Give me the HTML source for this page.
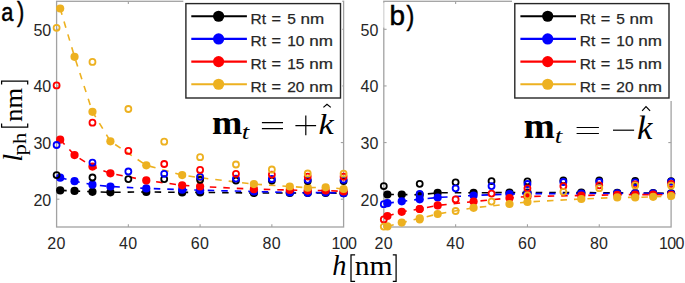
<!DOCTYPE html><html><head><meta charset="utf-8"><style>html,body{margin:0;padding:0;background:#fff;}body{width:685px;height:283px;overflow:hidden;}svg{display:block;}#w{width:685px;height:283px;}.sa,.t{font-family:"Liberation Sans",sans-serif;}.t{fill:#262626;font-size:16px;}.s{font-family:"Liberation Serif",serif;}</style></head><body>
<div id="w">
<svg width="685" height="283" viewBox="0 0 685 283">
<clipPath id="c0"><rect x="50.6" y="-6.7" width="299.0" height="233.7"/></clipPath>
<rect x="56.6" y="1.3" width="287.00" height="225.70" fill="none" stroke="#a2a2a2" stroke-width="1.3"/>
<line x1="128.35" y1="227.0" x2="128.35" y2="224.2" stroke="#a2a2a2" stroke-width="1.1"/>
<line x1="128.35" y1="1.3" x2="128.35" y2="4.1" stroke="#a2a2a2" stroke-width="1.1"/>
<line x1="200.10" y1="227.0" x2="200.10" y2="224.2" stroke="#a2a2a2" stroke-width="1.1"/>
<line x1="200.10" y1="1.3" x2="200.10" y2="4.1" stroke="#a2a2a2" stroke-width="1.1"/>
<line x1="271.85" y1="227.0" x2="271.85" y2="224.2" stroke="#a2a2a2" stroke-width="1.1"/>
<line x1="271.85" y1="1.3" x2="271.85" y2="4.1" stroke="#a2a2a2" stroke-width="1.1"/>
<line x1="56.6" y1="199.20" x2="59.4" y2="199.20" stroke="#a2a2a2" stroke-width="1.1"/>
<line x1="343.6" y1="199.20" x2="340.8" y2="199.20" stroke="#a2a2a2" stroke-width="1.1"/>
<line x1="56.6" y1="142.57" x2="59.4" y2="142.57" stroke="#a2a2a2" stroke-width="1.1"/>
<line x1="343.6" y1="142.57" x2="340.8" y2="142.57" stroke="#a2a2a2" stroke-width="1.1"/>
<line x1="56.6" y1="85.94" x2="59.4" y2="85.94" stroke="#a2a2a2" stroke-width="1.1"/>
<line x1="343.6" y1="85.94" x2="340.8" y2="85.94" stroke="#a2a2a2" stroke-width="1.1"/>
<line x1="56.6" y1="29.31" x2="59.4" y2="29.31" stroke="#a2a2a2" stroke-width="1.1"/>
<line x1="343.6" y1="29.31" x2="340.8" y2="29.31" stroke="#a2a2a2" stroke-width="1.1"/>
<text class="t" x="56.45" y="248.8" text-anchor="middle" letter-spacing="0.3">20</text>
<text class="t" x="128.20" y="248.8" text-anchor="middle" letter-spacing="0.3">40</text>
<text class="t" x="199.95" y="248.8" text-anchor="middle" letter-spacing="0.3">60</text>
<text class="t" x="271.70" y="248.8" text-anchor="middle" letter-spacing="0.3">80</text>
<text class="t" x="343.90" y="248.8" text-anchor="middle" letter-spacing="-0.6">100</text>
<text class="t" x="51.20" y="205.70" text-anchor="end">20</text>
<text class="t" x="51.20" y="149.07" text-anchor="end">30</text>
<text class="t" x="51.20" y="92.44" text-anchor="end">40</text>
<text class="t" x="51.20" y="35.81" text-anchor="end">50</text>
<g>
<polyline points="60.19,190.40 74.54,190.90 92.47,191.80 110.41,192.30 146.29,191.90 182.16,192.40 200.10,192.40 253.91,193.00 289.79,193.00 307.73,193.00 325.66,193.00 343.60,193.20" fill="none" stroke="#000000" stroke-width="1.6" stroke-dasharray="6.5 7"/>
<polyline points="60.19,177.70 74.54,181.20 92.47,184.70 110.41,186.50 146.29,188.40 182.16,189.70 200.10,190.20 253.91,191.50 289.79,192.50 307.73,192.80 325.66,192.50 343.60,193.20" fill="none" stroke="#0000ff" stroke-width="1.6" stroke-dasharray="6.5 7"/>
<polyline points="60.19,139.70 74.54,155.10 92.47,166.60 110.41,173.30 146.29,180.40 182.16,185.30 200.10,186.50 253.91,189.20 289.79,190.00 307.73,190.60 325.66,190.50 343.60,191.40" fill="none" stroke="#ff0000" stroke-width="1.6" stroke-dasharray="6.5 7"/>
<polyline points="60.19,8.50 74.54,56.80 92.47,111.80 110.41,141.30 146.29,165.30 182.16,175.10 200.10,177.70 253.91,184.10 289.79,186.50 307.73,187.70 325.66,187.30 343.60,189.00" fill="none" stroke="#edb120" stroke-width="1.6" stroke-dasharray="6.5 7"/>
<circle cx="60.19" cy="190.40" r="4.1" fill="#000000"/>
<circle cx="74.54" cy="190.90" r="4.1" fill="#000000"/>
<circle cx="92.47" cy="191.80" r="4.1" fill="#000000"/>
<circle cx="110.41" cy="192.30" r="4.1" fill="#000000"/>
<circle cx="146.29" cy="191.90" r="4.1" fill="#000000"/>
<circle cx="182.16" cy="192.40" r="4.1" fill="#000000"/>
<circle cx="200.10" cy="192.40" r="4.1" fill="#000000"/>
<circle cx="253.91" cy="193.00" r="4.1" fill="#000000"/>
<circle cx="289.79" cy="193.00" r="4.1" fill="#000000"/>
<circle cx="307.73" cy="193.00" r="4.1" fill="#000000"/>
<circle cx="325.66" cy="193.00" r="4.1" fill="#000000"/>
<circle cx="343.60" cy="193.20" r="4.1" fill="#000000"/>
<circle cx="60.19" cy="177.70" r="4.1" fill="#0000ff"/>
<circle cx="74.54" cy="181.20" r="4.1" fill="#0000ff"/>
<circle cx="92.47" cy="184.70" r="4.1" fill="#0000ff"/>
<circle cx="110.41" cy="186.50" r="4.1" fill="#0000ff"/>
<circle cx="146.29" cy="188.40" r="4.1" fill="#0000ff"/>
<circle cx="182.16" cy="189.70" r="4.1" fill="#0000ff"/>
<circle cx="200.10" cy="190.20" r="4.1" fill="#0000ff"/>
<circle cx="253.91" cy="191.50" r="4.1" fill="#0000ff"/>
<circle cx="289.79" cy="192.50" r="4.1" fill="#0000ff"/>
<circle cx="307.73" cy="192.80" r="4.1" fill="#0000ff"/>
<circle cx="325.66" cy="192.50" r="4.1" fill="#0000ff"/>
<circle cx="343.60" cy="193.20" r="4.1" fill="#0000ff"/>
<circle cx="60.19" cy="139.70" r="4.1" fill="#ff0000"/>
<circle cx="74.54" cy="155.10" r="4.1" fill="#ff0000"/>
<circle cx="92.47" cy="166.60" r="4.1" fill="#ff0000"/>
<circle cx="110.41" cy="173.30" r="4.1" fill="#ff0000"/>
<circle cx="146.29" cy="180.40" r="4.1" fill="#ff0000"/>
<circle cx="182.16" cy="185.30" r="4.1" fill="#ff0000"/>
<circle cx="200.10" cy="186.50" r="4.1" fill="#ff0000"/>
<circle cx="253.91" cy="189.20" r="4.1" fill="#ff0000"/>
<circle cx="289.79" cy="190.00" r="4.1" fill="#ff0000"/>
<circle cx="307.73" cy="190.60" r="4.1" fill="#ff0000"/>
<circle cx="325.66" cy="190.50" r="4.1" fill="#ff0000"/>
<circle cx="343.60" cy="191.40" r="4.1" fill="#ff0000"/>
<circle cx="60.19" cy="8.50" r="4.1" fill="#edb120"/>
<circle cx="74.54" cy="56.80" r="4.1" fill="#edb120"/>
<circle cx="92.47" cy="111.80" r="4.1" fill="#edb120"/>
<circle cx="110.41" cy="141.30" r="4.1" fill="#edb120"/>
<circle cx="146.29" cy="165.30" r="4.1" fill="#edb120"/>
<circle cx="182.16" cy="175.10" r="4.1" fill="#edb120"/>
<circle cx="200.10" cy="177.70" r="4.1" fill="#edb120"/>
<circle cx="253.91" cy="184.10" r="4.1" fill="#edb120"/>
<circle cx="289.79" cy="186.50" r="4.1" fill="#edb120"/>
<circle cx="307.73" cy="187.70" r="4.1" fill="#edb120"/>
<circle cx="325.66" cy="187.30" r="4.1" fill="#edb120"/>
<circle cx="343.60" cy="189.00" r="4.1" fill="#edb120"/>
<circle cx="56.60" cy="175.10" r="3.0" fill="none" stroke="#000000" stroke-width="1.8"/>
<circle cx="92.47" cy="177.50" r="3.0" fill="none" stroke="#000000" stroke-width="1.8"/>
<circle cx="128.35" cy="179.10" r="3.0" fill="none" stroke="#000000" stroke-width="1.8"/>
<circle cx="164.22" cy="179.10" r="3.0" fill="none" stroke="#000000" stroke-width="1.8"/>
<circle cx="200.10" cy="179.80" r="3.0" fill="none" stroke="#000000" stroke-width="1.8"/>
<circle cx="235.97" cy="180.50" r="3.0" fill="none" stroke="#000000" stroke-width="1.8"/>
<circle cx="271.85" cy="180.50" r="3.0" fill="none" stroke="#000000" stroke-width="1.8"/>
<circle cx="307.73" cy="181.00" r="3.0" fill="none" stroke="#000000" stroke-width="1.8"/>
<circle cx="343.60" cy="181.00" r="3.0" fill="none" stroke="#000000" stroke-width="1.8"/>
<circle cx="56.60" cy="145.00" r="3.0" fill="none" stroke="#0000ff" stroke-width="1.8"/>
<circle cx="92.47" cy="162.70" r="3.0" fill="none" stroke="#0000ff" stroke-width="1.8"/>
<circle cx="128.35" cy="171.50" r="3.0" fill="none" stroke="#0000ff" stroke-width="1.8"/>
<circle cx="164.22" cy="173.80" r="3.0" fill="none" stroke="#0000ff" stroke-width="1.8"/>
<circle cx="200.10" cy="176.80" r="3.0" fill="none" stroke="#0000ff" stroke-width="1.8"/>
<circle cx="235.97" cy="178.60" r="3.0" fill="none" stroke="#0000ff" stroke-width="1.8"/>
<circle cx="271.85" cy="179.00" r="3.0" fill="none" stroke="#0000ff" stroke-width="1.8"/>
<circle cx="307.73" cy="179.80" r="3.0" fill="none" stroke="#0000ff" stroke-width="1.8"/>
<circle cx="343.60" cy="179.80" r="3.0" fill="none" stroke="#0000ff" stroke-width="1.8"/>
<circle cx="56.60" cy="85.40" r="3.0" fill="none" stroke="#ff0000" stroke-width="1.8"/>
<circle cx="92.47" cy="122.70" r="3.0" fill="none" stroke="#ff0000" stroke-width="1.8"/>
<circle cx="128.35" cy="150.90" r="3.0" fill="none" stroke="#ff0000" stroke-width="1.8"/>
<circle cx="164.22" cy="164.00" r="3.0" fill="none" stroke="#ff0000" stroke-width="1.8"/>
<circle cx="200.10" cy="169.90" r="3.0" fill="none" stroke="#ff0000" stroke-width="1.8"/>
<circle cx="235.97" cy="173.80" r="3.0" fill="none" stroke="#ff0000" stroke-width="1.8"/>
<circle cx="271.85" cy="174.60" r="3.0" fill="none" stroke="#ff0000" stroke-width="1.8"/>
<circle cx="307.73" cy="176.60" r="3.0" fill="none" stroke="#ff0000" stroke-width="1.8"/>
<circle cx="343.60" cy="176.70" r="3.0" fill="none" stroke="#ff0000" stroke-width="1.8"/>
<circle cx="56.60" cy="27.80" r="3.0" fill="none" stroke="#edb120" stroke-width="1.8"/>
<circle cx="92.47" cy="61.90" r="3.0" fill="none" stroke="#edb120" stroke-width="1.8"/>
<circle cx="128.35" cy="109.00" r="3.0" fill="none" stroke="#edb120" stroke-width="1.8"/>
<circle cx="164.22" cy="141.70" r="3.0" fill="none" stroke="#edb120" stroke-width="1.8"/>
<circle cx="200.10" cy="157.20" r="3.0" fill="none" stroke="#edb120" stroke-width="1.8"/>
<circle cx="235.97" cy="164.50" r="3.0" fill="none" stroke="#edb120" stroke-width="1.8"/>
<circle cx="271.85" cy="169.50" r="3.0" fill="none" stroke="#edb120" stroke-width="1.8"/>
<circle cx="307.73" cy="173.50" r="3.0" fill="none" stroke="#edb120" stroke-width="1.8"/>
<circle cx="343.60" cy="173.70" r="3.0" fill="none" stroke="#edb120" stroke-width="1.8"/>
</g>
<clipPath id="c1"><rect x="377.8" y="-6.7" width="299.3" height="233.7"/></clipPath>
<rect x="383.8" y="1.3" width="287.30" height="225.70" fill="none" stroke="#a2a2a2" stroke-width="1.3"/>
<line x1="455.62" y1="227.0" x2="455.62" y2="224.2" stroke="#a2a2a2" stroke-width="1.1"/>
<line x1="455.62" y1="1.3" x2="455.62" y2="4.1" stroke="#a2a2a2" stroke-width="1.1"/>
<line x1="527.45" y1="227.0" x2="527.45" y2="224.2" stroke="#a2a2a2" stroke-width="1.1"/>
<line x1="527.45" y1="1.3" x2="527.45" y2="4.1" stroke="#a2a2a2" stroke-width="1.1"/>
<line x1="599.27" y1="227.0" x2="599.27" y2="224.2" stroke="#a2a2a2" stroke-width="1.1"/>
<line x1="599.27" y1="1.3" x2="599.27" y2="4.1" stroke="#a2a2a2" stroke-width="1.1"/>
<line x1="383.8" y1="199.20" x2="386.6" y2="199.20" stroke="#a2a2a2" stroke-width="1.1"/>
<line x1="671.1" y1="199.20" x2="668.3000000000001" y2="199.20" stroke="#a2a2a2" stroke-width="1.1"/>
<line x1="383.8" y1="142.57" x2="386.6" y2="142.57" stroke="#a2a2a2" stroke-width="1.1"/>
<line x1="671.1" y1="142.57" x2="668.3000000000001" y2="142.57" stroke="#a2a2a2" stroke-width="1.1"/>
<line x1="383.8" y1="85.94" x2="386.6" y2="85.94" stroke="#a2a2a2" stroke-width="1.1"/>
<line x1="671.1" y1="85.94" x2="668.3000000000001" y2="85.94" stroke="#a2a2a2" stroke-width="1.1"/>
<line x1="383.8" y1="29.31" x2="386.6" y2="29.31" stroke="#a2a2a2" stroke-width="1.1"/>
<line x1="671.1" y1="29.31" x2="668.3000000000001" y2="29.31" stroke="#a2a2a2" stroke-width="1.1"/>
<text class="t" x="383.65" y="248.8" text-anchor="middle" letter-spacing="0.3">20</text>
<text class="t" x="455.48" y="248.8" text-anchor="middle" letter-spacing="0.3">40</text>
<text class="t" x="527.30" y="248.8" text-anchor="middle" letter-spacing="0.3">60</text>
<text class="t" x="599.12" y="248.8" text-anchor="middle" letter-spacing="0.3">80</text>
<text class="t" x="671.40" y="248.8" text-anchor="middle" letter-spacing="-0.6">100</text>
<text class="t" x="378.40" y="205.70" text-anchor="end">20</text>
<text class="t" x="378.40" y="149.07" text-anchor="end">30</text>
<text class="t" x="378.40" y="92.44" text-anchor="end">40</text>
<text class="t" x="378.40" y="35.81" text-anchor="end">50</text>
<g>
<polyline points="387.39,194.50 401.76,194.50 419.71,194.80 437.67,192.80 473.58,192.80 509.49,192.50 527.45,192.50 581.32,192.60 617.23,192.80 635.19,193.00 653.14,193.00 671.10,193.30" fill="none" stroke="#000000" stroke-width="1.6" stroke-dasharray="6.5 7"/>
<polyline points="387.39,203.20 401.76,201.30 419.71,199.30 437.67,197.50 473.58,195.50 509.49,194.00 527.45,193.60 581.32,193.60 617.23,193.40 635.19,193.40 653.14,193.40 671.10,193.80" fill="none" stroke="#0000ff" stroke-width="1.6" stroke-dasharray="6.5 7"/>
<polyline points="387.39,216.00 401.76,211.80 419.71,209.00 437.67,205.40 473.58,201.60 509.49,198.00 527.45,196.50 581.32,195.50 617.23,194.80 635.19,194.60 653.14,194.60 671.10,194.80" fill="none" stroke="#ff0000" stroke-width="1.6" stroke-dasharray="6.5 7"/>
<polyline points="387.39,226.40 401.76,222.60 419.71,218.40 437.67,214.00 473.58,207.80 509.49,204.00 527.45,202.00 581.32,199.00 617.23,197.40 635.19,197.40 653.14,196.80 671.10,196.00" fill="none" stroke="#edb120" stroke-width="1.6" stroke-dasharray="6.5 7"/>
<circle cx="387.39" cy="194.50" r="4.1" fill="#000000"/>
<circle cx="401.76" cy="194.50" r="4.1" fill="#000000"/>
<circle cx="419.71" cy="194.80" r="4.1" fill="#000000"/>
<circle cx="437.67" cy="192.80" r="4.1" fill="#000000"/>
<circle cx="473.58" cy="192.80" r="4.1" fill="#000000"/>
<circle cx="509.49" cy="192.50" r="4.1" fill="#000000"/>
<circle cx="527.45" cy="192.50" r="4.1" fill="#000000"/>
<circle cx="581.32" cy="192.60" r="4.1" fill="#000000"/>
<circle cx="617.23" cy="192.80" r="4.1" fill="#000000"/>
<circle cx="635.19" cy="193.00" r="4.1" fill="#000000"/>
<circle cx="653.14" cy="193.00" r="4.1" fill="#000000"/>
<circle cx="671.10" cy="193.30" r="4.1" fill="#000000"/>
<circle cx="387.39" cy="203.20" r="4.1" fill="#0000ff"/>
<circle cx="401.76" cy="201.30" r="4.1" fill="#0000ff"/>
<circle cx="419.71" cy="199.30" r="4.1" fill="#0000ff"/>
<circle cx="437.67" cy="197.50" r="4.1" fill="#0000ff"/>
<circle cx="473.58" cy="195.50" r="4.1" fill="#0000ff"/>
<circle cx="509.49" cy="194.00" r="4.1" fill="#0000ff"/>
<circle cx="527.45" cy="193.60" r="4.1" fill="#0000ff"/>
<circle cx="581.32" cy="193.60" r="4.1" fill="#0000ff"/>
<circle cx="617.23" cy="193.40" r="4.1" fill="#0000ff"/>
<circle cx="635.19" cy="193.40" r="4.1" fill="#0000ff"/>
<circle cx="653.14" cy="193.40" r="4.1" fill="#0000ff"/>
<circle cx="671.10" cy="193.80" r="4.1" fill="#0000ff"/>
<circle cx="387.39" cy="216.00" r="4.1" fill="#ff0000"/>
<circle cx="401.76" cy="211.80" r="4.1" fill="#ff0000"/>
<circle cx="419.71" cy="209.00" r="4.1" fill="#ff0000"/>
<circle cx="437.67" cy="205.40" r="4.1" fill="#ff0000"/>
<circle cx="473.58" cy="201.60" r="4.1" fill="#ff0000"/>
<circle cx="509.49" cy="198.00" r="4.1" fill="#ff0000"/>
<circle cx="527.45" cy="196.50" r="4.1" fill="#ff0000"/>
<circle cx="581.32" cy="195.50" r="4.1" fill="#ff0000"/>
<circle cx="617.23" cy="194.80" r="4.1" fill="#ff0000"/>
<circle cx="635.19" cy="194.60" r="4.1" fill="#ff0000"/>
<circle cx="653.14" cy="194.60" r="4.1" fill="#ff0000"/>
<circle cx="671.10" cy="194.80" r="4.1" fill="#ff0000"/>
<circle cx="387.39" cy="226.40" r="4.1" fill="#edb120"/>
<circle cx="401.76" cy="222.60" r="4.1" fill="#edb120"/>
<circle cx="419.71" cy="218.40" r="4.1" fill="#edb120"/>
<circle cx="437.67" cy="214.00" r="4.1" fill="#edb120"/>
<circle cx="473.58" cy="207.80" r="4.1" fill="#edb120"/>
<circle cx="509.49" cy="204.00" r="4.1" fill="#edb120"/>
<circle cx="527.45" cy="202.00" r="4.1" fill="#edb120"/>
<circle cx="581.32" cy="199.00" r="4.1" fill="#edb120"/>
<circle cx="617.23" cy="197.40" r="4.1" fill="#edb120"/>
<circle cx="635.19" cy="197.40" r="4.1" fill="#edb120"/>
<circle cx="653.14" cy="196.80" r="4.1" fill="#edb120"/>
<circle cx="671.10" cy="196.00" r="4.1" fill="#edb120"/>
<circle cx="383.80" cy="186.10" r="3.0" fill="none" stroke="#000000" stroke-width="1.8"/>
<circle cx="419.71" cy="183.80" r="3.0" fill="none" stroke="#000000" stroke-width="1.8"/>
<circle cx="455.62" cy="182.30" r="3.0" fill="none" stroke="#000000" stroke-width="1.8"/>
<circle cx="491.54" cy="181.10" r="3.0" fill="none" stroke="#000000" stroke-width="1.8"/>
<circle cx="527.45" cy="181.40" r="3.0" fill="none" stroke="#000000" stroke-width="1.8"/>
<circle cx="563.36" cy="180.50" r="3.0" fill="none" stroke="#000000" stroke-width="1.8"/>
<circle cx="599.27" cy="180.50" r="3.0" fill="none" stroke="#000000" stroke-width="1.8"/>
<circle cx="635.19" cy="181.00" r="3.0" fill="none" stroke="#000000" stroke-width="1.8"/>
<circle cx="671.10" cy="181.20" r="3.0" fill="none" stroke="#000000" stroke-width="1.8"/>
<circle cx="383.80" cy="204.20" r="3.0" fill="none" stroke="#0000ff" stroke-width="1.8"/>
<circle cx="419.71" cy="194.00" r="3.0" fill="none" stroke="#0000ff" stroke-width="1.8"/>
<circle cx="455.62" cy="188.30" r="3.0" fill="none" stroke="#0000ff" stroke-width="1.8"/>
<circle cx="491.54" cy="186.10" r="3.0" fill="none" stroke="#0000ff" stroke-width="1.8"/>
<circle cx="527.45" cy="184.00" r="3.0" fill="none" stroke="#0000ff" stroke-width="1.8"/>
<circle cx="563.36" cy="182.00" r="3.0" fill="none" stroke="#0000ff" stroke-width="1.8"/>
<circle cx="599.27" cy="182.00" r="3.0" fill="none" stroke="#0000ff" stroke-width="1.8"/>
<circle cx="635.19" cy="182.30" r="3.0" fill="none" stroke="#0000ff" stroke-width="1.8"/>
<circle cx="671.10" cy="181.60" r="3.0" fill="none" stroke="#0000ff" stroke-width="1.8"/>
<circle cx="383.80" cy="219.40" r="3.0" fill="none" stroke="#ff0000" stroke-width="1.8"/>
<circle cx="419.71" cy="209.00" r="3.0" fill="none" stroke="#ff0000" stroke-width="1.8"/>
<circle cx="455.62" cy="199.40" r="3.0" fill="none" stroke="#ff0000" stroke-width="1.8"/>
<circle cx="491.54" cy="193.60" r="3.0" fill="none" stroke="#ff0000" stroke-width="1.8"/>
<circle cx="527.45" cy="188.30" r="3.0" fill="none" stroke="#ff0000" stroke-width="1.8"/>
<circle cx="563.36" cy="186.10" r="3.0" fill="none" stroke="#ff0000" stroke-width="1.8"/>
<circle cx="599.27" cy="185.30" r="3.0" fill="none" stroke="#ff0000" stroke-width="1.8"/>
<circle cx="635.19" cy="184.30" r="3.0" fill="none" stroke="#ff0000" stroke-width="1.8"/>
<circle cx="671.10" cy="184.00" r="3.0" fill="none" stroke="#ff0000" stroke-width="1.8"/>
<circle cx="383.80" cy="226.60" r="3.0" fill="none" stroke="#edb120" stroke-width="1.8"/>
<circle cx="419.71" cy="219.50" r="3.0" fill="none" stroke="#edb120" stroke-width="1.8"/>
<circle cx="455.62" cy="211.00" r="3.0" fill="none" stroke="#edb120" stroke-width="1.8"/>
<circle cx="491.54" cy="201.60" r="3.0" fill="none" stroke="#edb120" stroke-width="1.8"/>
<circle cx="527.45" cy="195.40" r="3.0" fill="none" stroke="#edb120" stroke-width="1.8"/>
<circle cx="563.36" cy="191.80" r="3.0" fill="none" stroke="#edb120" stroke-width="1.8"/>
<circle cx="599.27" cy="188.20" r="3.0" fill="none" stroke="#edb120" stroke-width="1.8"/>
<circle cx="635.19" cy="185.40" r="3.0" fill="none" stroke="#edb120" stroke-width="1.8"/>
<circle cx="671.10" cy="185.60" r="3.0" fill="none" stroke="#edb120" stroke-width="1.8"/>
</g>
<rect x="382.5" y="2.6" width="3" height="25" fill="#fff" fill-opacity="0.55"/>
<rect x="183.3" y="0" width="159.00" height="101" fill="#fff"/>
<rect x="185.9" y="3.6" width="154.60" height="94.4" fill="#fff" stroke="#262626" stroke-width="1.4"/>
<line x1="191.30" y1="16.25" x2="246.90" y2="16.25" stroke="#000000" stroke-width="2.2"/>
<circle cx="218.60" cy="16.25" r="5.6" fill="#000000"/>
<text x="250.60" y="23.60" font-size="15.5" fill="#262626" class="sa" stroke="#262626" stroke-width="0.25">Rt</text>
<text transform="translate(271.60 23.60) scale(1.05 1)" font-size="15.5" fill="#262626" class="sa" stroke="#262626" stroke-width="0.25">=</text>
<text x="287.20" y="23.60" font-size="15.5" fill="#262626" class="sa" stroke="#262626" stroke-width="0.25">5</text>
<text transform="translate(300.50 23.60) scale(1.1 1)" font-size="15.5" fill="#262626" class="sa" stroke="#262626" stroke-width="0.25">nm</text>
<line x1="191.30" y1="38.92" x2="246.90" y2="38.92" stroke="#0000ff" stroke-width="2.2"/>
<circle cx="218.60" cy="38.92" r="5.6" fill="#0000ff"/>
<text x="250.60" y="46.27" font-size="15.5" fill="#262626" class="sa" stroke="#262626" stroke-width="0.25">Rt</text>
<text transform="translate(271.60 46.27) scale(1.05 1)" font-size="15.5" fill="#262626" class="sa" stroke="#262626" stroke-width="0.25">=</text>
<text x="287.20" y="46.27" font-size="15.5" fill="#262626" class="sa" stroke="#262626" stroke-width="0.25">10</text>
<text transform="translate(309.20 46.27) scale(1.1 1)" font-size="15.5" fill="#262626" class="sa" stroke="#262626" stroke-width="0.25">nm</text>
<line x1="191.30" y1="61.59" x2="246.90" y2="61.59" stroke="#ff0000" stroke-width="2.2"/>
<circle cx="218.60" cy="61.59" r="5.6" fill="#ff0000"/>
<text x="250.60" y="68.94" font-size="15.5" fill="#262626" class="sa" stroke="#262626" stroke-width="0.25">Rt</text>
<text transform="translate(271.60 68.94) scale(1.05 1)" font-size="15.5" fill="#262626" class="sa" stroke="#262626" stroke-width="0.25">=</text>
<text x="287.20" y="68.94" font-size="15.5" fill="#262626" class="sa" stroke="#262626" stroke-width="0.25">15</text>
<text transform="translate(309.20 68.94) scale(1.1 1)" font-size="15.5" fill="#262626" class="sa" stroke="#262626" stroke-width="0.25">nm</text>
<line x1="191.30" y1="84.26" x2="246.90" y2="84.26" stroke="#edb120" stroke-width="2.2"/>
<circle cx="218.60" cy="84.26" r="5.6" fill="#edb120"/>
<text x="250.60" y="91.61" font-size="15.5" fill="#262626" class="sa" stroke="#262626" stroke-width="0.25">Rt</text>
<text transform="translate(271.60 91.61) scale(1.05 1)" font-size="15.5" fill="#262626" class="sa" stroke="#262626" stroke-width="0.25">=</text>
<text x="287.20" y="91.61" font-size="15.5" fill="#262626" class="sa" stroke="#262626" stroke-width="0.25">20</text>
<text transform="translate(309.20 91.61) scale(1.1 1)" font-size="15.5" fill="#262626" class="sa" stroke="#262626" stroke-width="0.25">nm</text>
<rect x="512.0" y="0" width="161.00" height="101" fill="#fff"/>
<rect x="514.8" y="3.6" width="154.20" height="94.4" fill="#fff" stroke="#262626" stroke-width="1.4"/>
<line x1="520.40" y1="16.25" x2="576.00" y2="16.25" stroke="#000000" stroke-width="2.2"/>
<circle cx="547.70" cy="16.25" r="5.6" fill="#000000"/>
<text x="579.70" y="23.60" font-size="15.5" fill="#262626" class="sa" stroke="#262626" stroke-width="0.25">Rt</text>
<text transform="translate(600.70 23.60) scale(1.05 1)" font-size="15.5" fill="#262626" class="sa" stroke="#262626" stroke-width="0.25">=</text>
<text x="616.30" y="23.60" font-size="15.5" fill="#262626" class="sa" stroke="#262626" stroke-width="0.25">5</text>
<text transform="translate(629.60 23.60) scale(1.1 1)" font-size="15.5" fill="#262626" class="sa" stroke="#262626" stroke-width="0.25">nm</text>
<line x1="520.40" y1="38.92" x2="576.00" y2="38.92" stroke="#0000ff" stroke-width="2.2"/>
<circle cx="547.70" cy="38.92" r="5.6" fill="#0000ff"/>
<text x="579.70" y="46.27" font-size="15.5" fill="#262626" class="sa" stroke="#262626" stroke-width="0.25">Rt</text>
<text transform="translate(600.70 46.27) scale(1.05 1)" font-size="15.5" fill="#262626" class="sa" stroke="#262626" stroke-width="0.25">=</text>
<text x="616.30" y="46.27" font-size="15.5" fill="#262626" class="sa" stroke="#262626" stroke-width="0.25">10</text>
<text transform="translate(638.30 46.27) scale(1.1 1)" font-size="15.5" fill="#262626" class="sa" stroke="#262626" stroke-width="0.25">nm</text>
<line x1="520.40" y1="61.59" x2="576.00" y2="61.59" stroke="#ff0000" stroke-width="2.2"/>
<circle cx="547.70" cy="61.59" r="5.6" fill="#ff0000"/>
<text x="579.70" y="68.94" font-size="15.5" fill="#262626" class="sa" stroke="#262626" stroke-width="0.25">Rt</text>
<text transform="translate(600.70 68.94) scale(1.05 1)" font-size="15.5" fill="#262626" class="sa" stroke="#262626" stroke-width="0.25">=</text>
<text x="616.30" y="68.94" font-size="15.5" fill="#262626" class="sa" stroke="#262626" stroke-width="0.25">15</text>
<text transform="translate(638.30 68.94) scale(1.1 1)" font-size="15.5" fill="#262626" class="sa" stroke="#262626" stroke-width="0.25">nm</text>
<line x1="520.40" y1="84.26" x2="576.00" y2="84.26" stroke="#edb120" stroke-width="2.2"/>
<circle cx="547.70" cy="84.26" r="5.6" fill="#edb120"/>
<text x="579.70" y="91.61" font-size="15.5" fill="#262626" class="sa" stroke="#262626" stroke-width="0.25">Rt</text>
<text transform="translate(600.70 91.61) scale(1.05 1)" font-size="15.5" fill="#262626" class="sa" stroke="#262626" stroke-width="0.25">=</text>
<text x="616.30" y="91.61" font-size="15.5" fill="#262626" class="sa" stroke="#262626" stroke-width="0.25">20</text>
<text transform="translate(638.30 91.61) scale(1.1 1)" font-size="15.5" fill="#262626" class="sa" stroke="#262626" stroke-width="0.25">nm</text>
<text transform="translate(1.20 20.90) scale(0.855 1)" font-size="25.5" fill="#000" class="sa" stroke="#000" stroke-width="0.5">a</text>
<text transform="translate(16.90 20.90) scale(0.8 1)" font-size="27.25" fill="#000" class="sa" stroke="#000" stroke-width="0.5">)</text>
<text x="389.60" y="24.50" font-size="27.9" fill="#000" class="sa" stroke="#000" stroke-width="0.5">b</text>
<text transform="translate(406.40 24.50) scale(0.84 1)" font-size="27.9" fill="#000" class="sa" stroke="#000" stroke-width="0.5">)</text>
<g transform="translate(21.5 160.5) rotate(-90)" fill="#000">
<text x="-1.30" y="0.00" font-size="28" class="s" font-style="italic">l</text>
<text transform="translate(5.10 4.30) scale(1.2 1)" font-size="19" class="s">ph</text>
<text transform="translate(38.79 0.00) scale(1.04 1)" font-size="25.5" class="s">nm</text>
</g>
<path d="M1.6 123.6 V127 H27.7 V123.6" fill="none" stroke="#000" stroke-width="1.25"/>
<path d="M1.6 84.4 V81 H27.7 V84.4" fill="none" stroke="#000" stroke-width="1.25"/>
<text x="332.28" y="275.10" font-size="28.4" class="s" font-style="italic">h</text>
<path d="M355.1 254.9 H351 V281.3 H355.1" fill="none" stroke="#000" stroke-width="1.25"/>
<text transform="translate(354.72 275.10) scale(1.08 1)" font-size="27.4" class="s">nm</text>
<path d="M392.8 254.9 H396.1 V281.3 H392.8" fill="none" stroke="#000" stroke-width="1.25"/>
<text transform="translate(211.97 133.70) scale(1.07 1)" font-size="34" class="s" font-weight="bold">m</text>
<text transform="translate(241.70 138.50) scale(1.35 1)" font-size="20" class="s" font-style="italic">t</text>
<path d="M261.9 122.6 H283 M261.9 128.6 H283" stroke="#000" stroke-width="1.2" fill="none"/>
<path d="M295.4 125.7 H316.1 M305.8 115.5 V135.3" stroke="#000" stroke-width="1.2" fill="none"/>
<text transform="translate(318.41 133.90) scale(1.16 1)" font-size="29.5" class="s" font-style="italic">k</text>
<path d="M323.4 107.4 L327 104.2 L330.8 107.4" stroke="#000" stroke-width="1.2" fill="none"/>
<text transform="translate(523.70 138.30) scale(1.07 1)" font-size="34.8" class="s" font-weight="bold">m</text>
<text transform="translate(554.70 143.20) scale(1.3 1)" font-size="21" class="s" font-style="italic">t</text>
<path d="M576.6 127.5 H598.9 M576.6 133.5 H598.9" stroke="#000" stroke-width="1.2" fill="none"/>
<path d="M613 130.2 H634.1" stroke="#000" stroke-width="1.2" fill="none"/>
<text transform="translate(637.10 139.00) scale(1.04 1)" font-size="33.3" class="s" font-style="italic">k</text>
<path d="M642.1 110.8 L646 106.6 L650.1 110.8" stroke="#000" stroke-width="1.2" fill="none"/>
</svg></div></body></html>
